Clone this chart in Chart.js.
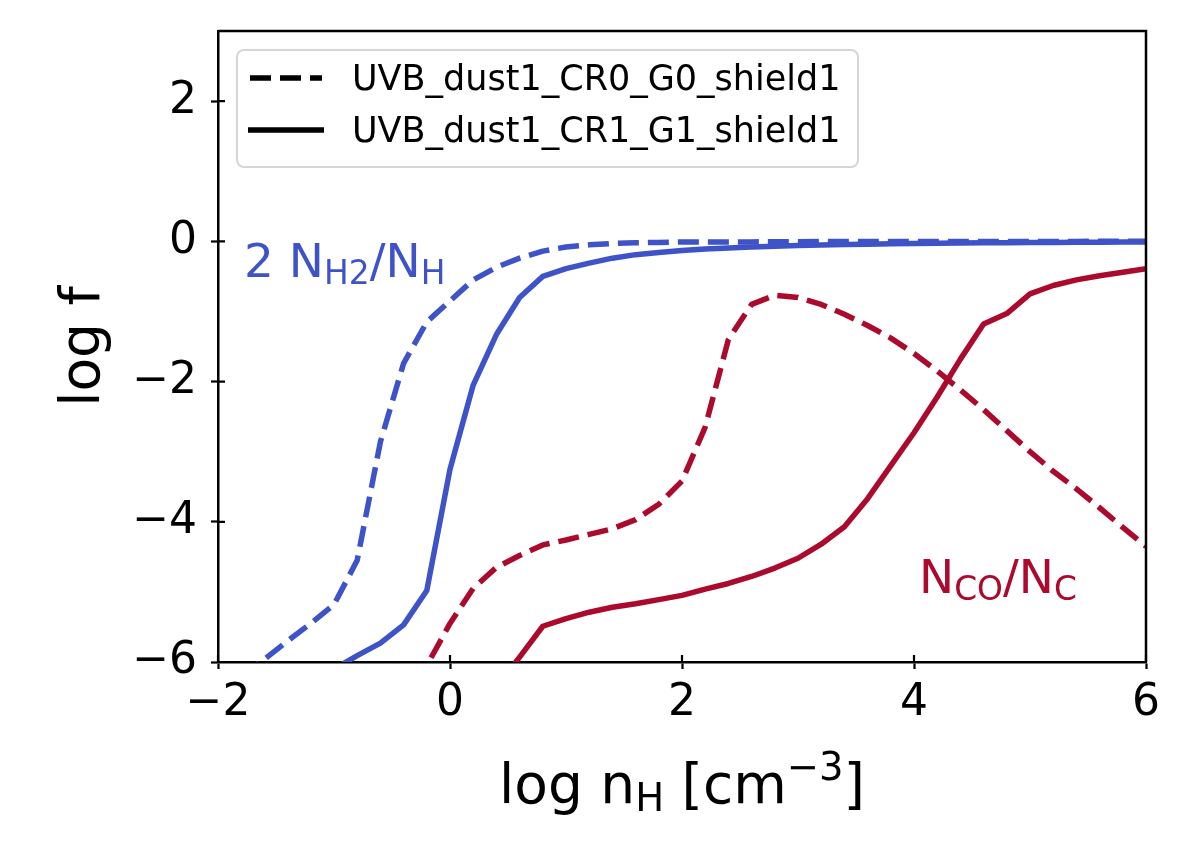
<!DOCTYPE html>
<html>
<head>
<meta charset="utf-8">
<script src="https://cdn.jsdelivr.net/npm/chart.js@4/dist/chart.umd.min.js"></script>
<style>
  html, body { margin: 0; padding: 0; background: #fff; }
  #graph { display: block; }
</style>
</head>
<body>
<canvas id="graph" width="1196" height="844"></canvas>
<script>
// log n_H grid (x values)
const xs = [-2.0, -1.8, -1.6, -1.4, -1.2, -1.0, -0.8, -0.6, -0.4, -0.2, 0.0,
    0.2, 0.4, 0.6, 0.8, 1.0, 1.2, 1.4, 1.6, 1.8, 2.0,
    2.2, 2.4, 2.6, 2.8, 3.0, 3.2, 3.4, 3.6, 3.8, 4.0,
    4.2, 4.4, 4.6, 4.8, 5.0, 5.2, 5.4, 5.6, 5.8, 6.0];

// 2 N_H2/N_H, UVB_dust1_CR0_G0_shield1 (dashed)
const h2Dashed = [-6.45, -6.2, -5.96, -5.7, -5.45, -5.18, -4.55, -2.86, -1.74, -1.15, -0.85,
    -0.55, -0.37, -0.24, -0.14, -0.08, -0.05, -0.03, -0.02, -0.015, -0.01,
    -0.01, -0.01, -0.008, -0.006, -0.005, -0.004, -0.004, -0.003, -0.003, -0.002,
    -0.002, -0.002, -0.001, -0.001, -0.001, -0.001, -0.001, 0, 0, 0];

// 2 N_H2/N_H, UVB_dust1_CR1_G1_shield1 (solid)
const h2Solid = [null, null, null, null, -6.35, -6.1, -5.91, -5.73, -5.47, -4.98, -3.25,
    -2.05, -1.33, -0.8, -0.5, -0.39, -0.31, -0.24, -0.19, -0.16, -0.13,
    -0.11, -0.095, -0.08, -0.07, -0.06, -0.052, -0.046, -0.04, -0.035, -0.031,
    -0.027, -0.024, -0.021, -0.019, -0.017, -0.015, -0.013, -0.012, -0.011, -0.01];

// N_CO/N_C, CR0_G0 (dashed)
const coDashed = [null, null, null, null, null, null, null, null, -6.7, -6.05, -5.45,
    -4.95, -4.65, -4.48, -4.33, -4.26, -4.18, -4.10, -3.97, -3.75, -3.42,
    -2.65, -1.40, -0.90, -0.77, -0.80, -0.90, -1.04, -1.20, -1.38, -1.60,
    -1.85, -2.12, -2.40, -2.70, -3.00, -3.28, -3.53, -3.80, -4.08, -4.35];

// N_CO/N_C, CR1_G1 (solid)
const coSolid = [null, null, null, null, null, null, null, null, null, null, null,
    null, -6.36, -5.93, -5.49, -5.38, -5.29, -5.22, -5.17, -5.11, -5.05,
    -4.96, -4.88, -4.78, -4.66, -4.52, -4.32, -4.07, -3.67, -3.20, -2.73,
    -2.22, -1.68, -1.18, -1.03, -0.75, -0.63, -0.55, -0.49, -0.44, -0.39];

const xTicks = [-2, 0, 2, 4, 6];
const yTicks = [-6, -4, -2, 0, 2];

const legendNames = ['UVB_dust1_CR0_G0_shield1', 'UVB_dust1_CR1_G1_shield1'];

const BLUE = '#3e53c8';
const RED = '#ac0a2c';
const FONT = '"DejaVu Sans", "Liberation Sans", sans-serif';
const DASH = [21, 9];

function pts(ys) {
    return xs.map((x, i) => ({ x: x, y: ys[i] }));
}

function minus(v) {
    return String(v).replace('-', '\u2212');
}

// draws a string made of pieces, some lowered (sub) or raised (sup)
function drawRich(ctx, parts, x, y, size, color) {
    ctx.fillStyle = color;
    ctx.textBaseline = 'alphabetic';
    ctx.textAlign = 'left';
    let cx = x;
    for (const p of parts) {
        const s = p.small ? size * 0.7 : size;
        ctx.font = s + 'px ' + FONT;
        let dy = 0;
        if (p.sub) dy = size * 0.15;
        if (p.sup) dy = -size * 0.42;
        ctx.fillText(p.t, cx, y + dy);
        cx += ctx.measureText(p.t).width;
    }
    return cx - x;
}

function richWidth(ctx, parts, size) {
    let w = 0;
    for (const p of parts) {
        const s = p.small ? size * 0.7 : size;
        ctx.font = s + 'px ' + FONT;
        w += ctx.measureText(p.t).width;
    }
    return w;
}

const extras = {
    id: 'extras',
    afterDraw(chart) {
        const ctx = chart.ctx;
        const a = chart.chartArea;
        const xs_ = chart.scales.x, ys_ = chart.scales.y;
        ctx.save();

        // top / right frame
        ctx.strokeStyle = '#000';
        ctx.lineWidth = 2.5;
        ctx.beginPath();
        ctx.moveTo(a.left, a.top);
        ctx.lineTo(a.right, a.top);
        ctx.lineTo(a.right, a.bottom);
        ctx.stroke();

        // inward half of the ticks
        ctx.lineWidth = 2.2;
        ctx.beginPath();
        xTicks.forEach(v => {
            const px = xs_.getPixelForValue(v);
            ctx.moveTo(px, a.bottom);
            ctx.lineTo(px, a.bottom - 7);
        });
        yTicks.forEach(v => {
            const py = ys_.getPixelForValue(v);
            ctx.moveTo(a.left, py);
            ctx.lineTo(a.left + 7, py);
        });
        ctx.stroke();

        // x axis title
        const xt = [{ t: 'log n' }, { t: 'H', small: true, sub: true }, { t: ' [cm' },
            { t: '\u22123', small: true, sup: true }, { t: ']' }];
        const w = richWidth(ctx, xt, 55);
        drawRich(ctx, xt, (a.left + a.right) / 2 - w / 2, 803, 55, '#000');

        // y axis title
        ctx.save();
        ctx.translate(99, (a.top + a.bottom) / 2);
        ctx.rotate(-Math.PI / 2);
        ctx.font = '55px ' + FONT;
        ctx.fillStyle = '#000';
        ctx.textAlign = 'center';
        ctx.textBaseline = 'alphabetic';
        ctx.fillText('log f', 0, 0);
        ctx.restore();

        // curve labels
        drawRich(ctx, [{ t: '2 N' }, { t: 'H2', small: true, sub: true }, { t: '/N' },
            { t: 'H', small: true, sub: true }], 244, 277, 47, BLUE);
        drawRich(ctx, [{ t: 'N' }, { t: 'CO', small: true, sub: true }, { t: '/N' },
            { t: 'C', small: true, sub: true }], 919, 593, 47, RED);

        // legend
        const lx = 237, ly = 50, lw = 621, lh = 117;
        ctx.fillStyle = 'rgba(255,255,255,0.8)';
        ctx.strokeStyle = '#d6d6d6';
        ctx.lineWidth = 2;
        ctx.beginPath();
        ctx.roundRect(lx, ly, lw, lh, 7);
        ctx.fill();
        ctx.stroke();

        ctx.strokeStyle = '#000';
        ctx.lineWidth = 5.5;
        ctx.lineCap = 'butt';
        ctx.setLineDash(DASH);
        ctx.beginPath();
        ctx.moveTo(250, 78);
        ctx.lineTo(322, 78);
        ctx.stroke();
        ctx.setLineDash([]);
        ctx.beginPath();
        ctx.moveTo(248, 130);
        ctx.lineTo(324, 130);
        ctx.stroke();

        ctx.fillStyle = '#000';
        ctx.font = '35px ' + FONT;
        ctx.textAlign = 'left';
        ctx.textBaseline = 'alphabetic';
        ctx.fillText(legendNames[0], 352, 90);
        ctx.fillText(legendNames[1], 352, 142);

        ctx.restore();
    }
};

const ctx = document.getElementById('graph').getContext('2d');

const myChart = new Chart(ctx, {
    type: 'line',
    data: {
        datasets: [
            { label: legendNames[0], data: pts(h2Dashed), borderColor: BLUE, borderDash: DASH },
            { label: legendNames[1], data: pts(h2Solid), borderColor: BLUE },
            { label: legendNames[0], data: pts(coDashed), borderColor: RED, borderDash: DASH },
            { label: legendNames[1], data: pts(coSolid), borderColor: RED }
        ]
    },
    options: {
        responsive: false,
        animation: false,
        devicePixelRatio: 1,
        layout: { padding: { top: 31, right: 50, left: 0, bottom: 0 } },
        datasets: {
            line: {
                borderWidth: 5.5,
                pointRadius: 0,
                tension: 0,
                fill: false,
                clip: 0,
                borderJoinStyle: 'round'
            }
        },
        plugins: {
            legend: { display: false },
            tooltip: { enabled: false }
        },
        scales: {
            x: {
                type: 'linear',
                min: -2,
                max: 6,
                afterBuildTicks: s => { s.ticks = xTicks.map(v => ({ value: v })); },
                afterFit: s => { s.height = 182; s.paddingLeft = 0; s.paddingRight = 0; },
                grid: { drawOnChartArea: false, tickLength: 7, tickWidth: 2.2, tickColor: '#000' },
                border: { display: true, color: '#000', width: 2.5 },
                ticks: {
                    padding: 8,
                    color: '#000',
                    font: { family: FONT, size: 44 },
                    callback: v => minus(v)
                }
            },
            y: {
                type: 'linear',
                min: -6,
                max: 3,
                afterBuildTicks: s => { s.ticks = yTicks.map(v => ({ value: v })); },
                afterFit: s => { s.width = 218; s.paddingTop = 0; s.paddingBottom = 0; },
                grid: { drawOnChartArea: false, tickLength: 7, tickWidth: 2.2, tickColor: '#000' },
                border: { display: true, color: '#000', width: 2.5 },
                ticks: {
                    padding: 14,
                    color: '#000',
                    font: { family: FONT, size: 44 },
                    callback: v => minus(v)
                }
            }
        }
    },
    plugins: [extras]
});
</script>
</body>
</html>
